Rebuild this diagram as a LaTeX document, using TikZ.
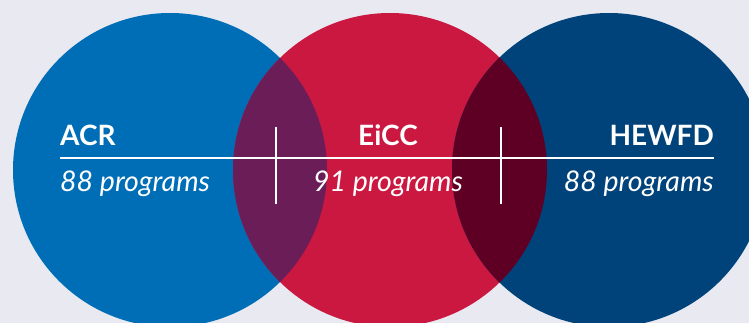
\documentclass[tikz,border=0pt]{standalone}
\usepackage{fontspec}
\setmainfont{Lato}
\definecolor{bg}{HTML}{E9E9F1}
\definecolor{cblue}{HTML}{006EB6}
\definecolor{cred}{HTML}{CA1840}
\definecolor{cnavy}{HTML}{00437B}
\definecolor{lensA}{HTML}{6B1D58}
\definecolor{lensB}{HTML}{5E0024}
\tikzset{
  title/.style={text=white, font=\fontsize{28}{32}\selectfont\bfseries, inner sep=0pt},
  count/.style={text=white, font=\fontsize{28.5}{32}\selectfont\itshape, inner sep=0pt},
  rule/.style={draw=white, line width=2pt}
}
\begin{document}
\begin{tikzpicture}[x=1pt,y=-1pt]
\fill[bg] (0,0) rectangle (749,323);
\useasboundingbox (0,0) rectangle (749,323);
\begin{scope}
\clip (0,0) rectangle (749,323);
\fill[cblue] (170,170) circle (157);
\fill[cred] (390,170) circle (157);
\fill[cnavy] (609,170) circle (157);
\begin{scope}
\clip (170,170) circle (157);
\fill[lensA] (390,170) circle (157);
\end{scope}
\begin{scope}
\clip (390,170) circle (157);
\fill[lensB] (609,170) circle (157);
\end{scope}
\end{scope}
\coordinate (hl) at (60,158.5);
\coordinate (hr) at (714,158.5);
\draw[rule] (hl) -- (hr);
\coordinate (v1t) at (275.5,127);
\coordinate (v1b) at (275.5,204);
\coordinate (v2t) at (500.5,127);
\coordinate (v2b) at (500.5,204);
\draw[rule] (v1t) -- (v1b);
\draw[rule] (v2t) -- (v2b);
\node[title, anchor=base west] (acr) at (60,146) {ACR};
\node[title, anchor=base] (eicc) at (388,146) {EiCC};
\node[title, anchor=base east] (hewfd) at (714,146) {HEWFD};
\node[count, anchor=base west] (n1) at (60,192) {88 programs};
\node[count, anchor=base] (n2) at (388,192) {91 programs};
\node[count, anchor=base east] (n3) at (714,192) {88 programs};
\end{tikzpicture}
\end{document}
